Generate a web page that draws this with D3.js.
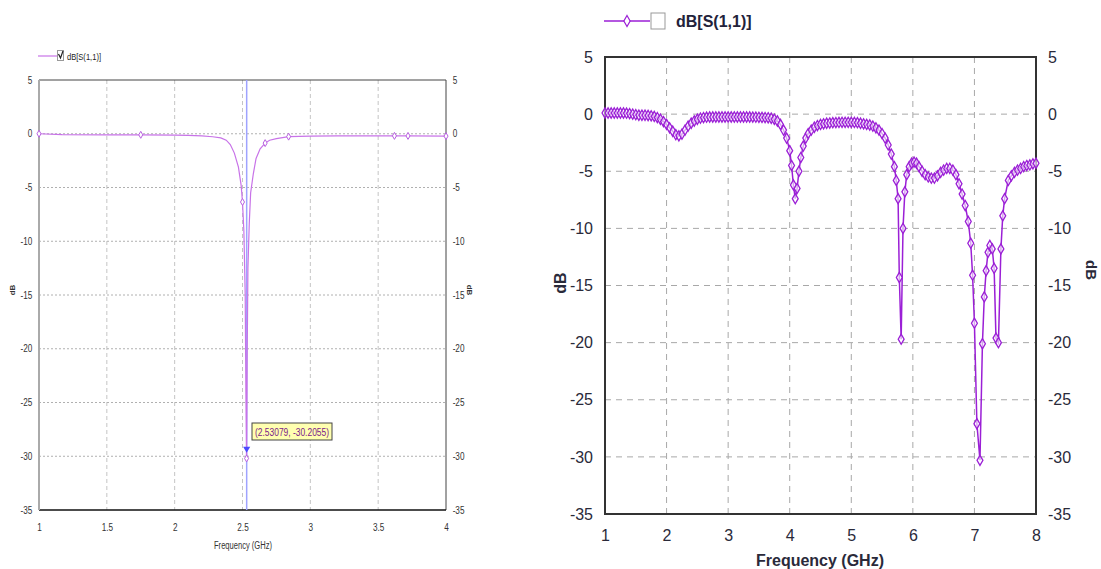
<!DOCTYPE html>
<html lang="en">
<head>
<meta charset="UTF-8">
<title>S11</title>
<style>
  body { margin: 0; background: #fff; }
  svg { display: block; }
</style>
</head>
<body>
<script src="https://d3js.org/d3.v7.min.js"></script>
<script>
// ---- left chart data (1-4 GHz) ----
const freqL = [1, 1.17, 1.5, 1.75, 2.0, 2.1, 2.2, 2.28, 2.34, 2.38, 2.41, 2.44, 2.47, 2.49, 2.5, 2.51, 2.52, 2.525, 2.53,
  2.535, 2.54, 2.55, 2.56, 2.58, 2.6, 2.63, 2.667, 2.7, 2.75, 2.84, 3.0, 3.2, 3.5, 3.62, 3.72, 4.0];
const dbL = [0, -0.08, -0.1, -0.1, -0.12, -0.15, -0.2, -0.28, -0.38, -0.6, -1.0, -1.8, -3.1, -4.8, -6.35, -9, -15, -24, -30.2,
  -20, -12.5, -8.3, -5.5, -3.7, -2.3, -1.4, -0.87, -0.6, -0.45, -0.27, -0.22, -0.2, -0.2, -0.2, -0.2, -0.22];
const markL = [1, 1.75, 2.5, 2.53, 2.667, 2.84, 3.62, 3.72, 4.0];
const xTicksL = [1, 1.5, 2, 2.5, 3, 3.5, 4];
const yTicks = [5, 0, -5, -10, -15, -20, -25, -30, -35];
const markerFreq = 2.53079, markerDb = -30.2055;

// ---- right chart data (1-8 GHz) ----
const freqR = [1.00, 1.05, 1.10, 1.15, 1.20, 1.25, 1.30, 1.35, 1.40, 1.45, 1.50, 1.55, 1.60, 1.65, 1.70, 1.75, 1.80, 1.85,
  1.90, 1.95, 2.00, 2.05, 2.10, 2.15, 2.20, 2.25, 2.30, 2.35, 2.40, 2.45, 2.50, 2.55, 2.60, 2.65, 2.70, 2.75, 2.80,
  2.85, 2.90, 2.95, 3.00, 3.05, 3.10, 3.15, 3.20, 3.25, 3.30, 3.35, 3.40, 3.45, 3.50, 3.55, 3.60, 3.65, 3.70, 3.75,
  3.80, 3.85, 3.90, 3.95, 4.00, 4.03, 4.06, 4.09, 4.12, 4.15, 4.18, 4.22, 4.26, 4.30, 4.35, 4.40, 4.45, 4.50, 4.55,
  4.60, 4.65, 4.70, 4.75, 4.80, 4.85, 4.90, 4.95, 5.00, 5.05, 5.10, 5.15, 5.20, 5.25, 5.30, 5.35, 5.40, 5.45, 5.50,
  5.55, 5.60, 5.65, 5.70, 5.73, 5.76, 5.78, 5.81, 5.84, 5.87, 5.90, 5.94, 5.98, 6.02, 6.06, 6.10, 6.15, 6.20, 6.25,
  6.30, 6.35, 6.40, 6.45, 6.50, 6.55, 6.60, 6.65, 6.70, 6.75, 6.80, 6.85, 6.90, 6.94, 6.97, 7.00, 7.04, 7.09, 7.13,
  7.16, 7.19, 7.22, 7.25, 7.29, 7.32, 7.35, 7.39, 7.43, 7.46, 7.49, 7.55, 7.60, 7.65, 7.70, 7.75, 7.80, 7.85, 7.90,
  7.95, 8.00];
const dbR = [0.1, 0.1, 0.1, 0.1, 0.1, 0.1, 0.1, 0.08, 0.05, 0.0, -0.05, -0.1, -0.1, -0.1, -0.12, -0.15, -0.2, -0.3,
  -0.45, -0.65, -0.9, -1.2, -1.5, -1.8, -1.9, -1.75, -1.4, -1.05, -0.8, -0.6, -0.45, -0.35, -0.3, -0.27, -0.25, -0.25, -0.25,
  -0.25, -0.25, -0.25, -0.25, -0.25, -0.25, -0.25, -0.25, -0.25, -0.25, -0.25, -0.26, -0.27, -0.28, -0.29, -0.3, -0.32, -0.36, -0.45,
  -0.6, -0.9, -1.4, -2.1, -3.2, -4.5, -6.2, -7.4, -6.5, -5.0, -3.8, -2.8, -2.1, -1.7, -1.4, -1.15, -1.0, -0.9, -0.85,
  -0.8, -0.78, -0.75, -0.74, -0.73, -0.72, -0.72, -0.72, -0.72, -0.73, -0.75, -0.8, -0.85, -0.9, -0.95, -1.05, -1.2, -1.4, -1.7,
  -2.1, -2.7, -3.5, -4.6, -5.8, -7.4, -14.3, -19.7, -10.0, -6.8, -5.3, -4.6, -4.3, -4.2, -4.3, -4.6, -5.0, -5.3, -5.5,
  -5.6, -5.6, -5.4, -5.1, -4.9, -4.75, -4.75, -4.9, -5.3, -6.1, -7.0, -8.0, -9.4, -11.3, -14.1, -18.3, -27.1, -30.3, -20.1,
  -16.0, -13.7, -12.1, -11.5, -11.8, -13.5, -19.6, -20.0, -11.8, -8.9, -7.4, -5.8, -5.4, -5.1, -4.9, -4.75, -4.6, -4.5, -4.45,
  -4.35, -4.3];
const xTicksR = [1, 2, 3, 4, 5, 6, 7, 8];

const svg = d3.select("body").append("svg")
  .attr("width", 1101)
  .attr("height", 569);

const plain = d => String(d);   // hyphen minus, like the original

// ================= LEFT CHART =================
const small = "'Liberation Sans', Arial, sans-serif";
const xL = d3.scaleLinear().domain([1, 4]).range([39, 446]);
const yL = d3.scaleLinear().domain([-35, 5]).range([510, 80]);
const left = svg.append("g");

// grid
left.selectAll(".vgl").data(xTicksL.slice(1, -1)).enter().append("line")
  .attr("x1", d => xL(d)).attr("x2", d => xL(d))
  .attr("y1", yL(5)).attr("y2", yL(-35))
  .attr("stroke", "#c4c4c4").attr("stroke-dasharray", "4,3");
left.selectAll(".hgl").data(yTicks.slice(1, -1)).enter().append("line")
  .attr("x1", xL(1)).attr("x2", xL(4))
  .attr("y1", d => yL(d)).attr("y2", d => yL(d))
  .attr("stroke", "#b0b0b0").attr("stroke-dasharray", "2,2");

// frame
left.append("line").attr("x1", xL(1)).attr("x2", xL(4)).attr("y1", yL(5)).attr("y2", yL(5))
  .attr("stroke", "#444").attr("stroke-width", 1);
left.append("line").attr("x1", xL(4)).attr("x2", xL(4)).attr("y1", yL(5)).attr("y2", yL(-35))
  .attr("stroke", "#444").attr("stroke-width", 1);
left.append("line").attr("x1", xL(1)).attr("x2", xL(4)).attr("y1", yL(-35)).attr("y2", yL(-35))
  .attr("stroke", "#111").attr("stroke-width", 1.5);
left.append("line").attr("x1", xL(1)).attr("x2", xL(1)).attr("y1", yL(5)).attr("y2", yL(-35))
  .attr("stroke", "#aaa").attr("stroke-width", 2);

// axes
const axL = left.append("g").attr("transform", `translate(${xL(1) - 5},0)`)
  .call(d3.axisLeft(yL).tickValues(yTicks).tickFormat(plain).tickSize(0).tickPadding(2));
const axR = left.append("g").attr("transform", `translate(${xL(4) + 5},0)`)
  .call(d3.axisRight(yL).tickValues(yTicks).tickFormat(plain).tickSize(0).tickPadding(2));
const axB = left.append("g").attr("transform", `translate(0,${yL(-35) + 12})`)
  .call(d3.axisBottom(xL).tickValues(xTicksL).tickFormat(plain).tickSize(0).tickPadding(2));
[axL, axR, axB].forEach(a => {
  a.select(".domain").remove();
  a.selectAll("text").attr("font-family", small).attr("font-size", 10).attr("fill", "#333")
    .attr("transform", "scale(0.82,1)");
});

left.append("text").attr("x", 243).attr("y", 549).attr("text-anchor", "middle")
  .attr("font-family", small).attr("font-size", 10).attr("fill", "#333")
  .attr("textLength", 58).attr("lengthAdjust", "spacingAndGlyphs").text("Frequency (GHz)");
left.append("text").attr("transform", "translate(15,290) rotate(-90)").attr("text-anchor", "middle")
  .attr("font-family", small).attr("font-size", 8).attr("font-weight", "bold").attr("fill", "#333").text("dB");
left.append("text").attr("transform", "translate(467,290) rotate(90)").attr("text-anchor", "middle")
  .attr("font-family", small).attr("font-size", 8).attr("font-weight", "bold").attr("fill", "#333").text("dB");

// marker vertical line
left.append("line").attr("x1", xL(markerFreq)).attr("x2", xL(markerFreq))
  .attr("y1", yL(5)).attr("y2", yL(-35))
  .attr("stroke", "#9fa3ff").attr("stroke-width", 1.5);

// curve
const lineL = d3.line().x((d, i) => xL(freqL[i])).y(d => yL(d));
left.append("path").attr("d", lineL(dbL))
  .attr("fill", "none").attr("stroke", "#c873e8").attr("stroke-width", 1.2);

const diamond = d3.symbol().type(d3.symbolDiamond);
left.selectAll(".mkL").data(markL).enter().append("path")
  .attr("d", diamond.size(14))
  .attr("transform", d => `translate(${xL(d)},${yL(dbL[freqL.indexOf(d)])})`)
  .attr("fill", "#fff").attr("stroke", "#b860e0").attr("stroke-width", 1);

// marker triangle and tooltip
left.append("path").attr("d", d3.symbol().type(d3.symbolTriangle).size(22)())
  .attr("transform", `translate(${xL(markerFreq)},${yL(-29.3)}) rotate(180)`)
  .attr("fill", "#4a4aff");
left.append("rect").attr("x", 252).attr("y", 423).attr("width", 80).attr("height", 17)
  .attr("fill", "#ffffb0").attr("stroke", "#444").attr("stroke-width", 1);
left.append("text").attr("x", 255).attr("y", 435.5)
  .attr("font-family", small).attr("font-size", 10).attr("fill", "#7a1a8a")
  .attr("textLength", 74).attr("lengthAdjust", "spacingAndGlyphs")
  .text(`(${markerFreq}, ${markerDb})`);

// legend
left.append("line").attr("x1", 38).attr("x2", 57).attr("y1", 56).attr("y2", 56)
  .attr("stroke", "#c873e8").attr("stroke-width", 1.2);
left.append("rect").attr("x", 57.5).attr("y", 50.5).attr("width", 6).attr("height", 10)
  .attr("fill", "#fff").attr("stroke", "#999");
left.append("path").attr("d", "M58.5,54 L60.5,58 L63,51").attr("fill", "none").attr("stroke", "#222").attr("stroke-width", 1.2);
left.append("text").attr("x", 67).attr("y", 60).attr("font-family", small).attr("font-size", 9)
  .attr("fill", "#222").attr("textLength", 34).attr("lengthAdjust", "spacingAndGlyphs").text("dB[S(1,1)]");

// ================= RIGHT CHART =================
const sans = "'Liberation Sans', Arial, sans-serif";
const xR = d3.scaleLinear().domain([1, 8]).range([605, 1036]);
const yR = d3.scaleLinear().domain([-35, 5]).range([514, 57]);
const right = svg.append("g");

right.selectAll(".vgr").data(xTicksR.slice(1, -1)).enter().append("line")
  .attr("x1", d => xR(d)).attr("x2", d => xR(d))
  .attr("y1", yR(5)).attr("y2", yR(-35))
  .attr("stroke", "#a8a8a8").attr("stroke-dasharray", "6,5");
right.selectAll(".hgr").data(yTicks.slice(1, -1)).enter().append("line")
  .attr("x1", xR(1)).attr("x2", xR(8))
  .attr("y1", d => yR(d)).attr("y2", d => yR(d))
  .attr("stroke", "#a8a8a8").attr("stroke-dasharray", "6,5");

right.append("rect").attr("x", xR(1)).attr("y", yR(5))
  .attr("width", xR(8) - xR(1)).attr("height", yR(-35) - yR(5))
  .attr("fill", "none").attr("stroke", "#333").attr("stroke-width", 2);

const rL = right.append("g").attr("transform", `translate(${xR(1) - 10},0)`)
  .call(d3.axisLeft(yR).tickValues(yTicks).tickFormat(plain).tickSize(0).tickPadding(2));
const rR = right.append("g").attr("transform", `translate(${xR(8) + 10},0)`)
  .call(d3.axisRight(yR).tickValues(yTicks).tickFormat(plain).tickSize(0).tickPadding(2));
const rB = right.append("g").attr("transform", `translate(0,${yR(-35) + 14})`)
  .call(d3.axisBottom(xR).tickValues(xTicksR).tickFormat(plain).tickSize(0).tickPadding(2));
[rL, rR, rB].forEach(a => {
  a.select(".domain").remove();
  a.selectAll("text").attr("font-family", sans).attr("font-size", 16).attr("fill", "#2a2a3a");
});

right.append("text").attr("x", 820).attr("y", 566).attr("text-anchor", "middle")
  .attr("font-family", sans).attr("font-size", 16).attr("font-weight", "bold").attr("fill", "#2a2a3a")
  .text("Frequency (GHz)");
right.append("text").attr("transform", "translate(566,283) rotate(-90)").attr("text-anchor", "middle")
  .attr("font-family", sans).attr("font-size", 16).attr("font-weight", "bold").attr("fill", "#2a2a3a").text("dB");
right.append("text").attr("transform", "translate(1086,270) rotate(90)").attr("text-anchor", "middle")
  .attr("font-family", sans).attr("font-size", 15).attr("font-weight", "bold").attr("fill", "#2a2a3a").text("dB");

const purple = "#9b1fd6";
const lineR = d3.line().x((d, i) => xR(freqR[i])).y(d => yR(d));
right.append("path").attr("d", lineR(dbR))
  .attr("fill", "none").attr("stroke", purple).attr("stroke-width", 1.5);
right.selectAll(".mkR").data(dbR).enter().append("path")
  .attr("d", diamond.size(30))
  .attr("transform", (d, i) => `translate(${xR(freqR[i])},${yR(d)})`)
  .attr("fill", "#fff").attr("fill-opacity", 0.6)
  .attr("stroke", purple).attr("stroke-width", 1.3);

// legend
right.append("line").attr("x1", 604).attr("x2", 650).attr("y1", 21).attr("y2", 21)
  .attr("stroke", purple).attr("stroke-width", 1.5);
right.append("path").attr("d", diamond.size(34)).attr("transform", "translate(627,21)")
  .attr("fill", "#fff").attr("stroke", purple).attr("stroke-width", 1.2);
right.append("rect").attr("x", 651).attr("y", 13).attr("width", 14).attr("height", 16)
  .attr("fill", "#fff").attr("stroke", "#999").attr("stroke-width", 1);
right.append("text").attr("x", 676).attr("y", 27).attr("font-family", sans).attr("font-size", 16)
  .attr("font-weight", "bold").attr("fill", "#22223a").text("dB[S(1,1)]");
</script>
</body>
</html>
